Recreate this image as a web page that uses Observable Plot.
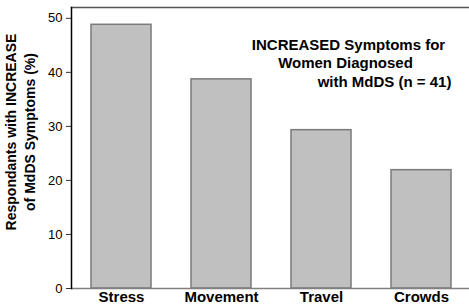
<!DOCTYPE html>
<html>
<head>
<meta charset="utf-8">
<script src="https://cdn.jsdelivr.net/npm/d3@7"></script>
<script src="https://cdn.jsdelivr.net/npm/@observablehq/plot@0.6"></script>
<style>
  html, body { margin: 0; padding: 0; background: #fff; }
  svg { display: block; }
</style>
</head>
<body>
<div id="chart"></div>
<script>
const categories = ["Stress", "Movement", "Travel", "Crowds"];
const values = [48.8, 38.7, 29.3, 21.9];
const yTicks = [0, 10, 20, 30, 40, 50];
const yLabelLines = ["Respondants with INCREASE", "of MdDS Symptoms (%)"];
const titleLines = ["INCREASED Symptoms for", "Women Diagnosed", "with MdDS (n = 41)"];

const data = categories.map((c, i) => ({category: c, value: values[i]}));
const font = "'Liberation Sans', Arial, sans-serif";

const chart = Plot.plot({
  width: 469,
  height: 304,
  marginLeft: 71,
  marginRight: -2,
  marginTop: 7,
  marginBottom: 16,
  style: {fontFamily: font, background: "#fff", color: "#000"},
  x: {domain: categories, paddingInner: 0.4, paddingOuter: 0.2, label: null},
  y: {domain: [0, 52], label: null},
  marks: [
    Plot.barY(data, {x: "category", y: "value", fill: "#c0c0c0", stroke: "#7a7a7a", strokeWidth: 1.5}),
    Plot.frame({anchor: "top", stroke: "#555", strokeWidth: 1.5}),
    Plot.ruleY([0], {stroke: "#808080", strokeWidth: 1.5}),
    Plot.frame({anchor: "left", stroke: "#000", strokeWidth: 1.5}),
    Plot.axisY({ticks: yTicks, tickSize: 5, tickPadding: 4, fontSize: 13, label: null, stroke: "#333"}),
    Plot.axisX({tickSize: 0, tickPadding: 3, fontSize: 15, fontWeight: "bold", label: null}),
    Plot.text([yLabelLines[0]], {frameAnchor: "left", textAnchor: "middle", lineAnchor: "middle", rotate: -90, dx: -60, dy: -16, fontSize: 14, fontWeight: "bold", fill: "#000"}),
    Plot.text([yLabelLines[1]], {frameAnchor: "left", textAnchor: "middle", lineAnchor: "middle", rotate: -90, dx: -41, dy: -16, fontSize: 14, fontWeight: "bold", fill: "#000"}),
    Plot.text([titleLines[0]], {frameAnchor: "top-left", textAnchor: "middle", lineAnchor: "middle", dx: 277, dy: 38, fontSize: 15, fontWeight: "bold", fill: "#000"}),
    Plot.text([titleLines[1]], {frameAnchor: "top-left", textAnchor: "middle", lineAnchor: "middle", dx: 274, dy: 56, fontSize: 15, fontWeight: "bold", fill: "#000"}),
    Plot.text([titleLines[2]], {frameAnchor: "top-left", textAnchor: "middle", lineAnchor: "middle", dx: 313, dy: 75, fontSize: 15, fontWeight: "bold", fill: "#000"})
  ]
});
document.getElementById("chart").appendChild(chart);
</script>
</body>
</html>
